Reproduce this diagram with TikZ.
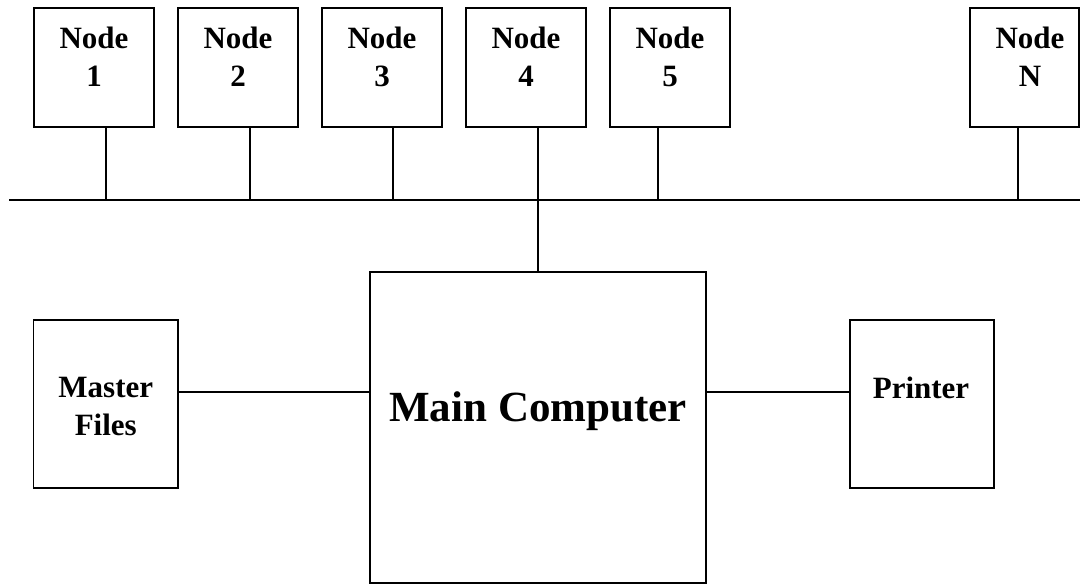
\documentclass[tikz,border=0pt]{standalone}
\usepackage{fontspec}
\setmainfont{Liberation Serif}
\begin{document}
\begin{tikzpicture}[x=1pt,y=-1pt,
  box/.style={draw, line width=1.6pt, inner sep=0pt, minimum width=#1},
  lbl/.style={inner sep=0pt, align=center, font=\fontsize{31}{37.5}\selectfont\bfseries},
  big/.style={inner sep=0pt, font=\fontsize{43}{50}\selectfont\bfseries},
  wire/.style={line width=1.3pt}]
\useasboundingbox (0,0) rectangle (1080,584);
% top nodes
\node[box=120, minimum height=119] (n1) at (94,67.5) {};
\node[box=120, minimum height=119] (n2) at (238,67.5) {};
\node[box=120, minimum height=119] (n3) at (382,67.5) {};
\node[box=120, minimum height=119] (n4) at (526,67.5) {};
\node[box=120, minimum height=119] (n5) at (670,67.5) {};
\node[box=109, minimum height=119] (nN) at (1024.5,67.5) {};
\node[lbl, anchor=north] (t1) at (94,27) {Node\\1};
\node[lbl, anchor=north] (t2) at (238,27) {Node\\2};
\node[lbl, anchor=north] (t3) at (382,27) {Node\\3};
\node[lbl, anchor=north] (t4) at (526,27) {Node\\4};
\node[lbl, anchor=north] (t5) at (670,27) {Node\\5};
\node[lbl, anchor=north] (tN) at (1030,27) {Node\\N};
% bus
\coordinate (busL) at (9,200);
\coordinate (busR) at (1080,200);
\draw[wire] (busL) -- (busR);
\coordinate (b1) at (106,200);
\coordinate (b2) at (250,200);
\coordinate (b3) at (393,200);
\coordinate (b4) at (538,200);
\coordinate (b5) at (658,200);
\coordinate (bN) at (1018,200);
\draw[wire] (b1) -- (b1 |- n1.south);
\draw[wire] (b2) -- (b2 |- n2.south);
\draw[wire] (b3) -- (b3 |- n3.south);
\draw[wire] (b4 |- n4.south) -- (b4);
\draw[wire] (b5) -- (b5 |- n5.south);
\draw[wire] (bN) -- (bN |- nN.south);
% main computer
\node[box=336, minimum height=311] (mc) at (538,427.5) {};
\node[big, anchor=base] (mct) at (538,421) {Main Computer};
\draw[wire] (b4) -- (b4 |- mc.north);
% master files
\node[box=144.5, minimum height=168] (mf) at (105.8,404) {};
\node[lbl, anchor=north] (mft) at (105.8,377) {Master\\Files};
% printer
\node[box=144, minimum height=168] (pr) at (922,404) {};
\node[lbl, anchor=base] (prt) at (921,398) {Printer};
\coordinate (wy) at (0,392);
\draw[wire] (mf.east |- wy) -- (mc.west |- wy);
\draw[wire] (mc.east |- wy) -- (pr.west |- wy);
\end{tikzpicture}
\end{document}
